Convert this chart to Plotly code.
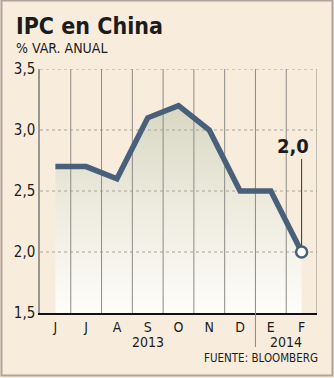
import plotly.graph_objects as go

# ---- data ----
months = ["J", "J", "A", "S", "O", "N", "D", "E", "F"]
ipc = [2.7, 2.7, 2.6, 3.1, 3.2, 3.0, 2.5, 2.5, 2.0]
y_ticks = [1.5, 2.0, 2.5, 3.0, 3.5]
y_tick_text = ["1,5", "2,0", "2,5", "3,0", "3,5"]
years = ["2013", "2014"]
year_centers = [3, 7.5]
year_break = 6.5
last_label = "2,0"
title = "IPC en China"
subtitle = "% VAR. ANUAL"
source = "FUENTE: BLOOMBERG"

# ---- style ----
BG = "#f8eddc"
LINE = "#486079"
GRID = "#a8a29b"
VGRID = "#8e8a86"
TXT = "#1c1c1c"
FONT = "DejaVu Sans Condensed"

W, H = 334, 378
L, R, T, B = 40, 17, 69, 65
PW, PH = W - L - R, H - T - B


def px_x(p):
    return (p - L) / PW


def px_y(p):
    return (H - B - p) / PH


x = list(range(len(months)))
x_min, x_max = -0.5, len(months) - 0.5
y_min, y_max = y_ticks[0], y_ticks[-1]

fig = go.Figure()

# area fill under the line
fig.add_trace(go.Scatter(
    x=x, y=ipc, mode="none", fill="tozeroy",
    fillgradient=dict(type="vertical",
                      colorscale=[[0, "#fefdf9"], [0.5, "#eeecdf"], [1, "#d8d7c3"]],
                      start=y_min, stop=max(ipc)),
    hoverinfo="skip", showlegend=False))

# grid lines (drawn above the fill, below the line)
hx, hy = [], []
for v in y_ticks[1:]:
    hx += [x_min, x_max, None]
    hy += [v, v, None]
fig.add_trace(go.Scatter(x=hx, y=hy, mode="lines",
                         line=dict(color=GRID, width=1, dash="3px,3px"),
                         hoverinfo="skip", showlegend=False))
vx, vy = [], []
for i in range(len(months)):
    xv = i + 0.5
    vx += [xv, xv, None]
    vy += [y_min, y_max, None]
fig.add_trace(go.Scatter(x=vx, y=vy, mode="lines",
                         line=dict(color=VGRID, width=1),
                         hoverinfo="skip", showlegend=False))

# main line
fig.add_trace(go.Scatter(x=x, y=ipc, mode="lines",
                         line=dict(color=LINE, width=5.5),
                         hoverinfo="skip", showlegend=False))

# last point marker
fig.add_trace(go.Scatter(x=[x[-1]], y=[ipc[-1]], mode="markers",
                         marker=dict(size=11, color="white",
                                     line=dict(color=LINE, width=2.5)),
                         hoverinfo="skip", showlegend=False))

shapes = [
    # leader line for last value
    dict(type="line", xref="x", yref="y", x0=x[-1], x1=x[-1],
         y0=ipc[-1], y1=ipc[-1] + (y_max - y_min) * 93 / PH,
         line=dict(color="#333333", width=1), layer="between"),
    # year separator below axis
    dict(type="line", xref="x", yref="paper", x0=year_break, x1=year_break,
         y0=px_y(347), y1=0, line=dict(color=VGRID, width=1)),
    # outer border
    dict(type="rect", xref="paper", yref="paper",
         x0=px_x(1.5), x1=px_x(332.5), y0=px_y(375.5), y1=px_y(0.5),
         line=dict(color="#b3a29c", width=2)),
]

annotations = [
    dict(text=f"<b>{title}</b>", xref="paper", yref="paper",
         x=px_x(14), y=px_y(26), xanchor="left", yanchor="middle",
         showarrow=False, font=dict(family=FONT, size=23, color=TXT)),
    dict(text=subtitle, xref="paper", yref="paper",
         x=px_x(14), y=px_y(48.5), xanchor="left", yanchor="middle",
         showarrow=False, font=dict(family=FONT, size=14, color=TXT)),
    dict(text=f"<b>{last_label}</b>", xref="x", yref="y",
         x=x[-1], y=ipc[-1], xshift=-9, yshift=106,
         xanchor="center", yanchor="middle",
         showarrow=False, font=dict(family=FONT, size=20, color=TXT)),
    dict(text=source, xref="paper", yref="paper",
         x=px_x(320), y=px_y(358), xanchor="right", yanchor="middle",
         showarrow=False, font=dict(family=FONT, size=11.5, color=TXT)),
]
for yr, xc in zip(years, year_centers):
    annotations.append(dict(text=yr, xref="x", yref="paper",
                            x=xc, y=px_y(342), xanchor="center", yanchor="middle",
                            showarrow=False,
                            font=dict(family=FONT, size=14, color=TXT)))

fig.update_layout(
    width=W, height=H,
    margin=dict(l=L, r=R, t=T, b=B, pad=0),
    paper_bgcolor=BG, plot_bgcolor=BG,
    showlegend=False,
    font=dict(family=FONT, size=14, color=TXT),
    xaxis=dict(range=[x_min, x_max], tickvals=x, ticktext=months,
               showgrid=False, zeroline=False, showline=True,
               linecolor="#111111", linewidth=2, ticks="",
               tickfont=dict(family=FONT, size=14, color=TXT), fixedrange=True),
    yaxis=dict(range=[y_min, y_max], tickvals=y_ticks, ticktext=y_tick_text,
               showgrid=False, zeroline=False, showline=True,
               linecolor="#9a958f", linewidth=1.5, ticks="",
               tickfont=dict(family=FONT, size=15, color=TXT), fixedrange=True),
    shapes=shapes,
    annotations=annotations,
)

fig.write_html("out.html")
